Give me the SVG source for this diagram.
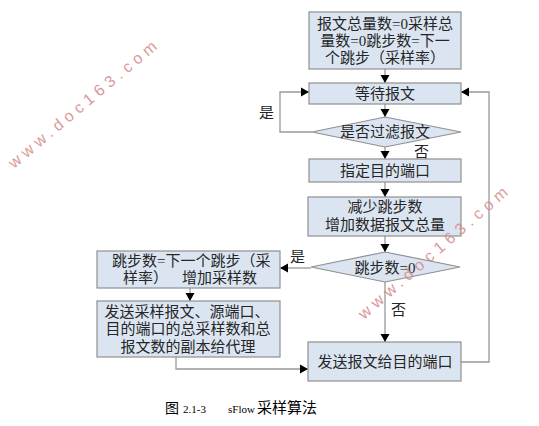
<svg xmlns="http://www.w3.org/2000/svg" width="539" height="426" viewBox="0 0 539 426">
<style>
.box{fill:#dbe5f1;stroke:#8f8f8f;stroke-width:1.2}
.t{font-family:"Liberation Serif","Noto Sans CJK SC",serif;font-size:15px;fill:#262626}
.c{text-anchor:middle}
.ln{fill:none;stroke:#999;stroke-width:1.3}
.wm{font-family:"Liberation Sans",sans-serif;font-size:16px;fill:#d48a8a;opacity:0.85}
.cap{font-family:"Liberation Serif","Noto Sans CJK SC",serif;fill:#000}
</style>
<defs>
<marker id="ah" markerUnits="userSpaceOnUse" markerWidth="10" markerHeight="10" refX="8" refY="5" orient="auto">
<path d="M0,0.5 L8,5 L0,9.5 Z" fill="#000"/>
</marker>
</defs>
<rect width="539" height="426" fill="#fff"/>
<g id="connectors">
<line class="ln" x1="385" y1="69" x2="385" y2="83" marker-end="url(#ah)"/>
<line class="ln" x1="385" y1="104" x2="385" y2="117" marker-end="url(#ah)"/>
<line class="ln" x1="385" y1="147" x2="385" y2="159" marker-end="url(#ah)"/>
<line class="ln" x1="385" y1="182" x2="385" y2="197" marker-end="url(#ah)"/>
<line class="ln" x1="385" y1="236" x2="385" y2="252" marker-end="url(#ah)"/>
<line class="ln" x1="385" y1="282" x2="385" y2="342" marker-end="url(#ah)"/>
<path class="ln" d="M312,132 H280 V92 H309" marker-end="url(#ah)"/>
<path class="ln" d="M311,268 H280" marker-end="url(#ah)"/>
<path class="ln" d="M190,288 V301" marker-end="url(#ah)"/>
<path class="ln" d="M176,357 V369 H308" marker-end="url(#ah)"/>
<path class="ln" d="M461,362 H489 V92 H461" marker-end="url(#ah)"/>
<text class="t" x="259" y="118">是</text>
<text class="t" x="414" y="157">否</text>
<text class="t" x="290" y="262">是</text>
<text class="t" x="391" y="315">否</text>
</g>
<g id="init">
<rect class="box" x="309" y="12" width="152" height="57"/>
<text class="t c" x="385" y="29">报文总量数=0采样总</text>
<text class="t c" x="385" y="46">量数=0跳步数=下一</text>
<text class="t c" x="385" y="63">个跳步（采样率）</text>
</g>
<g id="wait">
<rect class="box" x="309" y="83" width="152" height="21"/>
<text class="t c" x="385" y="99">等待报文</text>
</g>
<g id="filter">
<polygon class="box" points="385,117 461,132 385,147 312,132"/>
<text class="t c" x="385" y="137">是否过滤报文</text>
</g>
<g id="dest">
<rect class="box" x="309" y="159" width="152" height="23"/>
<text class="t c" x="385" y="176">指定目的端口</text>
</g>
<g id="decr">
<rect class="box" x="308" y="197" width="153" height="39"/>
<text class="t c" x="385" y="212">减少跳步数</text>
<text class="t c" x="385" y="230">增加数据报文总量</text>
</g>
<g id="zero">
<polygon class="box" points="385,252 460,267 385,282 311,267"/>
<text class="t c" x="385" y="273">跳步数=0</text>
</g>
<g id="reset">
<rect class="box" x="97" y="251" width="183" height="37"/>
<text class="t" x="112" y="266">跳步数=下一个跳步（采</text>
<text class="t" x="123" y="283">样率）<tspan x="182">增加采样数</tspan></text>
</g>
<g id="sendsample">
<rect class="box" x="97" y="301" width="183" height="56"/>
<text class="t c" x="187" y="317">发送采样报文、源端口、</text>
<text class="t c" x="188" y="334">目的端口的总采样数和总</text>
<text class="t c" x="188" y="352">报文数的副本给代理</text>
</g>
<g id="send">
<rect class="box" x="308" y="342" width="153" height="39"/>
<text class="t c" x="385" y="367">发送报文给目的端口</text>
</g>
<text class="wm" x="14" y="169" transform="rotate(-40 14 169)" textLength="188" lengthAdjust="spacing">www.doc163.com</text>
<text class="wm" x="364" y="320" transform="rotate(-41 364 320)" textLength="192" lengthAdjust="spacing">www.doc163.com</text>
<g id="caption">
<text class="cap" x="165" y="413" font-size="14">图</text>
<text class="cap" x="183" y="413" font-size="11">2.1-3</text>
<text class="cap" x="228" y="413" font-size="11">sFlow</text>
<text class="cap" x="257" y="413" font-size="15">采样算法</text>
</g>
</svg>
